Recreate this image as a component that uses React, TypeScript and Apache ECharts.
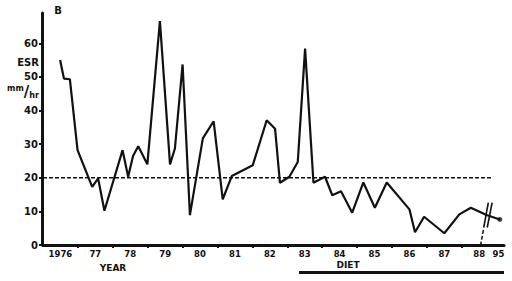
import React, { useEffect, useRef } from 'react';
import * as echarts from 'echarts';

// Sample times (decimal years) and ESR values (mm/hr)
const sampleYears = [
  1976.49, 1976.6, 1976.77, 1976.99, 1977.41, 1977.58, 1977.76, 1978.28, 1978.44, 1978.58,
  1978.73, 1978.99, 1979.35, 1979.64, 1979.78, 1980.0, 1980.21, 1980.58, 1980.89, 1981.15,
  1981.41, 1982.01, 1982.41, 1982.65, 1982.79, 1983.06, 1983.3, 1983.51, 1983.75, 1984.08,
  1984.29, 1984.54, 1984.86, 1985.18, 1985.51, 1985.85, 1986.5, 1986.66, 1986.92, 1987.5,
  1987.93, 1988.26, 1988.71, 1995,
];
const esrValues = [
  55, 49.5, 49.3, 28.2, 17.3, 19.8, 10.2, 28.2, 20.3, 26.5,
  29.4, 24.0, 66.6, 24.0, 28.7, 53.7, 8.9, 31.7, 36.8, 13.6,
  20.5, 23.7, 37.1, 34.6, 18.5, 20.3, 24.7, 58.4, 18.5, 20.3,
  14.8, 16.0, 9.6, 18.6, 11.1, 18.6, 10.6, 3.8, 8.4, 3.5,
  9.1, 11.1, 8.9, 7.6,
];
const yTickValues = [0, 10, 20, 30, 40, 50, 60];
const xTickYears = [1977, 1978, 1979, 1980, 1981, 1982, 1983, 1984, 1985, 1986, 1987, 1988];
const xTickLabels = ['1976', '77', '78', '79', '80', '81', '82', '83', '84', '85', '86', '87', '88', '95'];
const normalRange = [1976, 1988.89];
const normalEsr = 20;

// axis layout helpers
const X_MIN = 1976;
const X_MAX = 1989.21;
const BREAK_POS = 1989.09; // where the post-break year (1995) is drawn
const LABEL_95_POS = 1989.05;
const plotX = (t: number) => (t > 1989 ? BREAK_POS : t);
const labelPositions = xTickLabels.map((_, i) => (i < xTickLabels.length - 1 ? X_MIN + 0.5 + i : LABEL_95_POS));

const INK = '#111';
const FONT = 'DejaVu Sans';

export default function App() {
  const ref = useRef<HTMLDivElement>(null);
  useEffect(() => {
    document.body.style.margin = '0';
    const chart = echarts.init(ref.current!, null, { renderer: 'svg' });
    const mainData = sampleYears.map((t, i) => [plotX(t), esrValues[i]]);
    const last = mainData[mainData.length - 1];
    chart.setOption({
      animation: false,
      backgroundColor: '#fff',
      grid: { left: 43, right: 8, top: 13, bottom: 36 },
      xAxis: {
        type: 'value',
        min: X_MIN,
        max: X_MAX,
        splitLine: { show: false },
        axisLine: { show: true, lineStyle: { color: INK, width: 3 } },
        axisTick: { show: true, length: 3, lineStyle: { color: INK, width: 2 }, customValues: xTickYears },
        axisLabel: {
          show: true,
          margin: 4,
          customValues: labelPositions,
          color: INK,
          fontFamily: FONT,
          fontWeight: 'bold',
          fontSize: 8.5,
          formatter: (v: number) => {
            const i = labelPositions.findIndex((p) => Math.abs(p - v) < 1e-6);
            return i >= 0 ? xTickLabels[i] : '';
          },
        },
      },
      yAxis: {
        type: 'value',
        min: 0,
        max: 69,
        offset: 1,
        splitLine: { show: false },
        axisLine: { show: true, lineStyle: { color: INK, width: 3 } },
        axisTick: { show: true, length: 3, lineStyle: { color: INK, width: 2 }, customValues: yTickValues },
        axisLabel: {
          show: true,
          margin: 4,
          customValues: yTickValues,
          color: INK,
          fontFamily: FONT,
          fontWeight: 'bold',
          fontSize: 10,
        },
      },
      series: [
        {
          name: 'normal',
          type: 'line',
          data: normalRange.map((t) => [t, normalEsr]),
          symbol: 'none',
          lineStyle: { color: INK, width: 1.6, type: [4, 2] },
          z: 1,
        },
        {
          name: 'ESR',
          type: 'line',
          data: mainData,
          symbol: 'none',
          lineStyle: { color: INK, width: 2.2 },
          z: 2,
        },
        {
          name: 'end',
          type: 'scatter',
          data: [last],
          symbol: 'circle',
          symbolSize: 5,
          itemStyle: { color: INK },
          z: 3,
        },
        {
          name: 'breakA',
          type: 'line',
          data: [[1988.76, 12.6], [1988.63, 5.2]],
          symbol: 'none',
          lineStyle: { color: INK, width: 1.6 },
          z: 3,
        },
        {
          name: 'breakB',
          type: 'line',
          data: [[1988.87, 12.6], [1988.73, 5.2]],
          symbol: 'none',
          lineStyle: { color: INK, width: 1.6 },
          z: 3,
        },
        {
          name: 'breakTail',
          type: 'line',
          data: [[1988.62, 4.5], [1988.54, 0]],
          symbol: 'none',
          lineStyle: { color: INK, width: 1.5, type: [4, 2] },
          z: 3,
        },
      ],
      graphic: [
        { type: 'text', x: 58, y: 10, style: { text: 'B', font: `bold 10px "${FONT}"`, fill: INK, align: 'center', verticalAlign: 'middle' } },
        { type: 'text', x: 28, y: 62, style: { text: 'ESR', font: `bold 10px "${FONT}"`, fill: INK, align: 'center', verticalAlign: 'middle' } },
        {
          type: 'text',
          x: 23,
          y: 92,
          style: {
            text: '{a|mm}{b|/}{c|hr}',
            align: 'center',
            verticalAlign: 'middle',
            fill: INK,
            rich: {
              a: { fontFamily: FONT, fontWeight: 'bold', fontSize: 8, verticalAlign: 'top', fill: INK },
              b: { fontFamily: FONT, fontWeight: 'bold', fontSize: 15, fill: INK },
              c: { fontFamily: FONT, fontWeight: 'bold', fontSize: 8, verticalAlign: 'bottom', fill: INK },
            },
          },
        },
        { type: 'text', x: 113, y: 268, style: { text: 'YEAR', font: `bold 9px "${FONT}"`, fill: INK, align: 'center', verticalAlign: 'middle' } },
        { type: 'text', x: 348, y: 265, style: { text: 'DIET', font: `bold 9px "${FONT}"`, fill: INK, align: 'center', verticalAlign: 'middle' } },
        { type: 'rect', shape: { x: 299, y: 271, width: 205, height: 3 }, style: { fill: INK } },
      ],
    });
    return () => chart.dispose();
  }, []);
  return <div ref={ref} style={{ position: 'absolute', left: 0, top: 0, width: 512, height: 281 }} />;
}
